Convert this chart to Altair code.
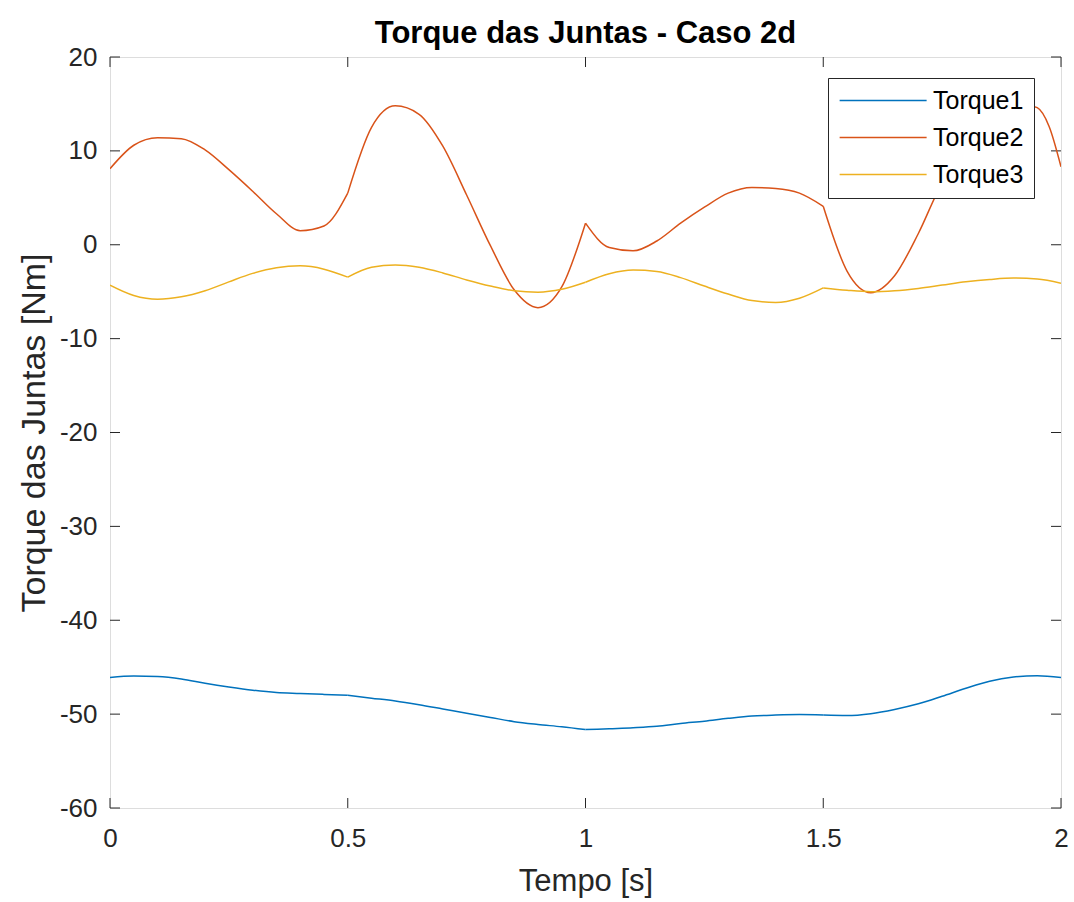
import altair as alt
import pandas as pd

# Joint torques sampled over the trajectory (time in s, torque in Nm)
t_torque1 = [0.00, 0.05, 0.10, 0.15, 0.20, 0.25, 0.30, 0.35, 0.40, 0.45, 0.50,
             0.55, 0.60, 0.65, 0.70, 0.75, 0.80, 0.85, 0.90, 0.95, 1.00,
             1.05, 1.10, 1.15, 1.20, 1.25, 1.30, 1.35, 1.40, 1.45, 1.50,
             1.55, 1.60, 1.65, 1.70, 1.75, 1.80, 1.85, 1.90, 1.95, 2.00]
torque1 = [-46.1, -45.95, -46.0, -46.25, -46.7, -47.1, -47.45, -47.7, -47.8, -47.9, -48.0,
           -48.3, -48.6, -49.0, -49.45, -49.9, -50.35, -50.8, -51.1, -51.35, -51.65,
           -51.55, -51.45, -51.3, -51.0, -50.75, -50.45, -50.2, -50.1, -50.05, -50.1,
           -50.15, -49.95, -49.5, -48.9, -48.1, -47.25, -46.5, -46.05, -45.9, -46.1]

t_torque2 = [0.00, 0.05, 0.10, 0.15, 0.20, 0.25, 0.30, 0.35, 0.40, 0.45, 0.50,
             0.55, 0.60, 0.65, 0.70, 0.75, 0.80, 0.85, 0.90, 0.95, 1.00,
             1.05, 1.10, 1.15, 1.20, 1.25, 1.30, 1.35, 1.40, 1.45, 1.50,
             1.55, 1.60, 1.65, 1.70, 1.75, 1.80, 1.85, 1.90, 1.925, 1.95, 1.975, 2.00]
torque2 = [8.1, 10.6, 11.4, 11.3, 10.1, 8.0, 5.7, 3.3, 1.5, 2.0, 5.5,
           12.5, 14.8, 13.9, 10.5, 5.3, -0.1, -4.8, -6.7, -4.5, 2.3,
           -0.3, -0.65, 0.4, 2.3, 4.0, 5.5, 6.1, 6.0, 5.5, 4.1,
           -2.8, -5.1, -3.3, 1.2, 6.6, 10.0, 12.5, 14.3, 14.9, 14.6, 12.6, 8.3]

t_torque3 = [0.00, 0.05, 0.10, 0.15, 0.20, 0.25, 0.30, 0.35, 0.40, 0.45, 0.50,
             0.55, 0.60, 0.65, 0.70, 0.75, 0.80, 0.85, 0.90, 0.95, 1.00,
             1.05, 1.10, 1.15, 1.20, 1.25, 1.30, 1.35, 1.40, 1.45, 1.50,
             1.55, 1.60, 1.65, 1.70, 1.75, 1.80, 1.85, 1.90, 1.95, 2.00]
torque3 = [-4.3, -5.4, -5.8, -5.55, -4.9, -3.95, -3.05, -2.45, -2.25, -2.6, -3.45,
           -2.4, -2.15, -2.4, -3.0, -3.75, -4.4, -4.9, -5.05, -4.75, -4.0,
           -3.1, -2.7, -2.85, -3.5, -4.4, -5.25, -5.95, -6.15, -5.7, -4.6,
           -4.85, -5.0, -4.9, -4.65, -4.3, -3.95, -3.7, -3.55, -3.65, -4.1]

series_names = ["Torque1", "Torque2", "Torque3"]
series_colors = ["#0072BD", "#D95319", "#EDB120"]
x_ticks = [0, 0.5, 1, 1.5, 2]
y_ticks = [-60, -50, -40, -30, -20, -10, 0, 10, 20]
segment_edges = [0.0, 0.5, 1.0, 1.5, 2.0]

W, H = 951, 751
TICK = 10
FONT = "Liberation Sans"
AXIS_COLOR = "#262626"

# Each half-second stretch is its own path so the corners at the
# phase changes stay sharp.
rows = []
for name, ts, vs in zip(series_names,
                        [t_torque1, t_torque2, t_torque3],
                        [torque1, torque2, torque3]):
    for k in range(len(segment_edges) - 1):
        lo, hi = segment_edges[k], segment_edges[k + 1]
        for t, v in zip(ts, vs):
            if lo - 1e-9 <= t <= hi + 1e-9:
                rows.append({"t": t, "torque": v, "serie": name, "seg": k})
df = pd.DataFrame(rows)

x_scale = alt.Scale(domain=[0, 2], nice=False, zero=False)
y_scale = alt.Scale(domain=[-60, 20], nice=False, zero=False)

axis_common = dict(grid=False, domain=False, ticks=False, labelFlush=False,
                   labelFontSize=26,
                   labelFont=FONT, titleFont=FONT, labelColor=AXIS_COLOR,
                   titleColor=AXIS_COLOR, titleFontWeight="normal",
                   labelExpr="datum.value + ''")

# Legend sample: a long horizontal stroke drawn from a small symbol box
legend_line = "M-1,0H7"

lines = alt.Chart(df).mark_line(strokeWidth=1.5, interpolate="monotone", clip=True).encode(
    x=alt.X("t:Q", scale=x_scale,
            axis=alt.Axis(title="Tempo [s]", values=x_ticks, labelPadding=17,
                          titlePadding=15, titleFontSize=31, **axis_common)),
    y=alt.Y("torque:Q", scale=y_scale,
            axis=alt.Axis(title="Torque das Juntas [Nm]", values=y_ticks,
                          labelPadding=13, titlePadding=8, titleFontSize=34,
                          **axis_common)),
    color=alt.Color("serie:N",
                    scale=alt.Scale(domain=series_names, range=series_colors),
                    legend=alt.Legend(title=None, orient="none", legendX=718, legendY=21,
                                      symbolType=legend_line, symbolSize=473,
                                      symbolStrokeWidth=1.5, labelFontSize=25,
                                      labelFont=FONT, labelColor="#000000",
                                      labelOffset=70, rowPadding=11, padding=10,
                                      fillColor="white", strokeColor=AXIS_COLOR)),
    detail="seg:N",
    order="t:Q",
)

xt = pd.DataFrame({"t": x_ticks})
yt = pd.DataFrame({"torque": y_ticks})
tick_style = dict(color=AXIS_COLOR, strokeWidth=1)

bottom_ticks = alt.Chart(xt).mark_rule(**tick_style).encode(
    x=alt.X("t:Q", scale=x_scale), y=alt.value(H), y2=alt.value(H - TICK))
top_ticks = alt.Chart(xt).mark_rule(**tick_style).encode(
    x=alt.X("t:Q", scale=x_scale), y=alt.value(0), y2=alt.value(TICK))
left_ticks = alt.Chart(yt).mark_rule(**tick_style).encode(
    y=alt.Y("torque:Q", scale=y_scale), x=alt.value(0), x2=alt.value(TICK))
right_ticks = alt.Chart(yt).mark_rule(**tick_style).encode(
    y=alt.Y("torque:Q", scale=y_scale), x=alt.value(W), x2=alt.value(W - TICK))

chart = alt.layer(bottom_ticks, top_ticks, left_ticks, right_ticks, lines).properties(
    width=W, height=H,
    title=alt.TitleParams("Torque das Juntas - Caso 2d", font=FONT, fontSize=31,
                          fontWeight="bold", color="#000000", offset=7, dy=13,
                          anchor="middle", frame="group"),
    autosize=alt.AutoSizeParams(type="none"),
    padding={"left": 110, "top": 57, "right": 13, "bottom": 94},
).configure_view(stroke=AXIS_COLOR, strokeWidth=1.2).configure(background="white")

chart.save("out.html", embed_options={"renderer": "svg", "actions": False})
